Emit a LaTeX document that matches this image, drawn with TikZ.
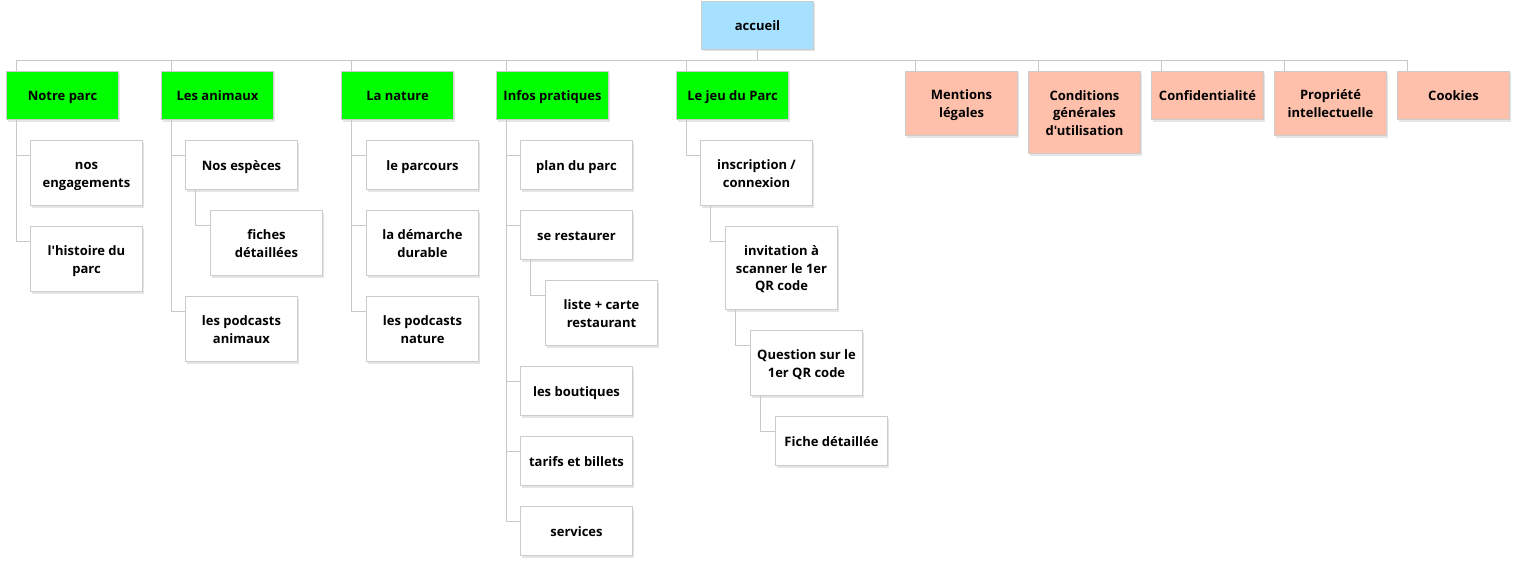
\documentclass[tikz,border=0pt]{standalone}
\usepackage{fontspec}
\setmainfont{Open Sans}[Ligatures=TeXOff]
\usetikzlibrary{calc,shadows}
\definecolor{linegray}{HTML}{C8C8C8}
\definecolor{boxline}{HTML}{CCCCCC}
\definecolor{topblue}{HTML}{A6E1FF}
\definecolor{secgreen}{HTML}{00FF00}
\definecolor{legalpink}{HTML}{FFC0AB}
% centred lines at a fixed pitch; the taller first row sets the text a bit low
\newcommand\boxtext[1]{\begin{tabular}{@{}c@{}}\rule{0pt}{15.8pt}#1\end{tabular}}
\tikzset{
  box/.style={draw=boxline, line width=1pt, fill=white, anchor=north west,
    minimum width=112pt, inner sep=0pt,
    font=\fontsize{13}{17.7}\selectfont\bfseries,
    drop shadow={shadow xshift=1.5pt, shadow yshift=-2pt, opacity=0.10, fill=black}},
  h1/.style={minimum height=49pt},
  h2/.style={minimum height=65pt},
  h3/.style={minimum height=83pt},
  rootbox/.style={box, fill=topblue, minimum height=48pt},
  secbox/.style={box, fill=secgreen, minimum height=48pt},
  legalbox/.style={box, fill=legalpink},
  conn/.style={draw=linegray, line width=1pt},
}
\begin{document}
\begin{tikzpicture}[x=1pt, y=-1pt]
\useasboundingbox (0,0) rectangle (1520,586);

% root
\node[rootbox] (acc) at (701,1) {\boxtext{accueil}};

% first level
\node[secbox] (np) at (6,71) {\boxtext{Notre parc}};
\node[secbox] (an) at (161,71) {\boxtext{Les animaux}};
\node[secbox] (na) at (341,71) {\boxtext{La nature}};
\node[secbox] (ip) at (496,71) {\boxtext{Infos pratiques}};
\node[secbox] (jp) at (676,71) {\boxtext{Le jeu du Parc}};
\node[legalbox, minimum height=64pt] (ml) at (905,71) {\boxtext{Mentions\\légales}};
\node[legalbox, minimum height=82pt] (cg) at (1028,71) {\boxtext{Conditions\\générales\\d'utilisation}};
\node[legalbox, minimum height=48pt] (cf) at (1151,71) {\boxtext{Confidentialité}};
\node[legalbox, minimum height=64pt] (pi) at (1274,71) {\boxtext{Propriété\\intellectuelle}};
\node[legalbox, minimum height=48pt] (ck) at (1397,71) {\boxtext{Cookies}};

% Notre parc
\node[box,h2] (np1) at (30,140) {\boxtext{nos\\engagements}};
\node[box,h2] (np2) at (30,226) {\boxtext{l'histoire du\\parc}};

% Les animaux
\node[box,h1] (an1) at (185,140) {\boxtext{Nos espèces}};
\node[box,h2] (an1a) at (210,210) {\boxtext{fiches\\détaillées}};
\node[box,h2] (an2) at (185,296) {\boxtext{les podcasts\\animaux}};

% La nature
\node[box,h1] (na1) at (366,140) {\boxtext{le parcours}};
\node[box,h2] (na2) at (366,210) {\boxtext{la démarche\\durable}};
\node[box,h2] (na3) at (366,296) {\boxtext{les podcasts\\nature}};

% Infos pratiques
\node[box,h1] (ip1) at (520,140) {\boxtext{plan du parc}};
\node[box,h1] (ip2) at (520,210) {\boxtext{se restaurer}};
\node[box,h2] (ip2a) at (545,280) {\boxtext{liste + carte\\restaurant}};
\node[box,h1] (ip3) at (520,366) {\boxtext{les boutiques}};
\node[box,h1] (ip4) at (520,436) {\boxtext{tarifs et billets}};
\node[box,h1] (ip5) at (520,506) {\boxtext{services}};

% Le jeu du Parc
\node[box,h2] (jp1) at (700,140) {\boxtext{inscription /\\connexion}};
\node[box,h3] (jp2) at (725,226) {\boxtext{invitation à\\scanner le 1er\\QR code}};
\node[box,h2] (jp3) at (750,330) {\boxtext{Question sur le\\1er QR code}};
\node[box,h1] (jp4) at (775,416) {\boxtext{Fiche détaillée}};

% connectors: root bus to first level
\foreach \n in {np,an,na,ip,jp,ml,cg,cf,pi,ck}
  \draw[conn] (acc.south) -- ++(0,11) -| ($(\n.north west)+(10.5,0)$);

% parent to child elbows
\foreach \p/\c in {np/np1,np/np2,an/an1,an1/an1a,an/an2,na/na1,na/na2,na/na3,
                   ip/ip1,ip/ip2,ip2/ip2a,ip/ip3,ip/ip4,ip/ip5,
                   jp/jp1,jp1/jp2,jp2/jp3,jp3/jp4}
  \draw[conn] ($(\p.south west)+(10.5,0)$) |- ($(\c.north west)+(0,15.5)$);
\end{tikzpicture}
\end{document}
